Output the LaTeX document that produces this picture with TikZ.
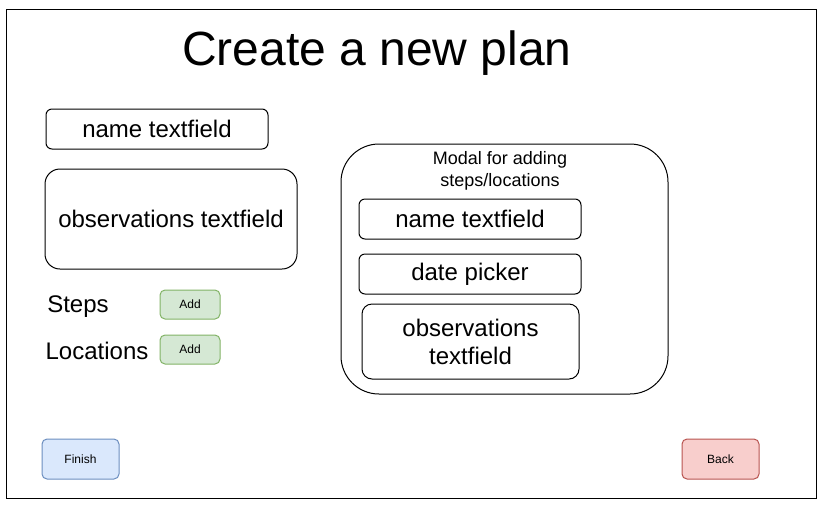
\documentclass[tikz,border=0pt]{standalone}
\usepackage{fontspec}
\setmainfont{Liberation Sans}
\usepackage{tikz}
\usepackage{xcolor}
\definecolor{addfill}{HTML}{D5E8D4}
\definecolor{addline}{HTML}{82B366}
\definecolor{finfill}{HTML}{DAE8FC}
\definecolor{finline}{HTML}{6C8EBF}
\definecolor{backfill}{HTML}{F8CECC}
\definecolor{backline}{HTML}{B85450}

\begin{document}
\begin{tikzpicture}[x=1pt, y=-1pt, line width=1pt,
    field/.style={draw, rounded corners=6pt, inner sep=0pt, align=center,
        font=\fontsize{24}{28}\selectfont},
    btn/.style={draw, rounded corners=5pt, inner sep=0pt,
        font=\fontsize{12}{14}\selectfont}]
    \useasboundingbox (0,0) rectangle (824,507);
    % Page frame
    \draw (6,9) rectangle (816,498);
    \node[font=\fontsize{48}{56}\selectfont] (title) at (377,53) {Create a new plan};

    % Plan fields
    \node[field, minimum width=222, minimum height=40] (nameField) at (157,129) {name textfield};
    \node[field, rounded corners=15pt, minimum width=252, minimum height=100] (obsField) at (171,219) {observations textfield};

    \node[font=\fontsize{24}{28}\selectfont] (stepsLbl) at (78,307) {Steps};
    \node[font=\fontsize{24}{28}\selectfont] (locLbl) at (97,351) {Locations};
    \node[btn, fill=addfill, draw=addline, minimum width=60, minimum height=29] (stepsAdd) at (190,304.5) {Add};
    \node[btn, fill=addfill, draw=addline, minimum width=60, minimum height=29] (locAdd) at (190,349.5) {Add};

    % Modal
    \node[draw, rounded corners=38pt, minimum width=327, minimum height=250] (modal) at (504.5,269) {};
    \node[align=center, font=\fontsize{18}{22}\selectfont, inner sep=0pt] (modalTitle) at (500,171) {Modal for adding\\steps/locations};
    \node[field, minimum width=222, minimum height=40] (modalName) at (470,219) {name textfield};
    \node[field, minimum width=222, minimum height=40] (modalDate) at (470,274) {date picker};
    \node[field, rounded corners=10pt, minimum width=217, minimum height=75] (modalObs) at (470.5,341.5) {observations\\textfield};

    % Buttons
    \node[btn, fill=finfill, draw=finline, minimum width=77, minimum height=40] (finishBtn) at (80.5,459) {Finish};
    \node[btn, fill=backfill, draw=backline, minimum width=77, minimum height=40] (backBtn) at (720.5,459) {Back};
\end{tikzpicture}
\end{document}
